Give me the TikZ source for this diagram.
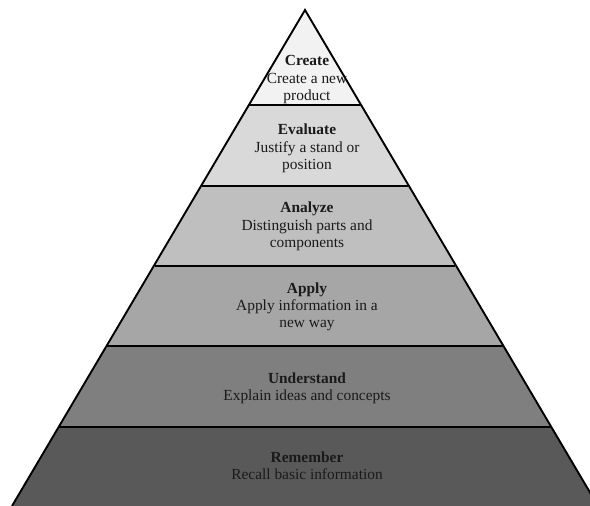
\documentclass[tikz,border=0pt]{standalone}
\usepackage{fontspec}
\setmainfont{Liberation Serif}
\definecolor{cCreate}{HTML}{F2F2F2}
\definecolor{cEvaluate}{HTML}{D9D9D9}
\definecolor{cAnalyze}{HTML}{BFBFBF}
\definecolor{cApply}{HTML}{A6A6A6}
\definecolor{cUnderstand}{HTML}{7F7F7F}
\definecolor{cRemember}{HTML}{595959}
\definecolor{txt}{HTML}{1A1A1A}
\tikzset{
  ttl/.style={font=\fontsize{15.4}{17.5}\selectfont\bfseries, text=txt, anchor=base, inner sep=0pt},
  dsc/.style={font=\fontsize{15.4}{17.5}\selectfont, text=txt, anchor=base, inner sep=0pt},
  sep/.style={line width=2.8pt, line cap=butt},
  edge/.style={line width=1.9pt, line join=miter}
}
\begin{document}
\begin{tikzpicture}[x=1pt,y=-1pt]
\useasboundingbox (0,0) rectangle (590,506);
\clip (0,0) rectangle (590,506);
% corner coordinates
\coordinate (apex) at (305,10);
\coordinate (l1) at (248.9,105); \coordinate (r1) at (361.1,105);
\coordinate (l2) at (202.0,186); \coordinate (r2) at (408.0,186);
\coordinate (l3) at (154.8,266); \coordinate (r3) at (455.2,266);
\coordinate (l4) at (106.5,346); \coordinate (r4) at (503.5,346);
\coordinate (l5) at (58.7,427);  \coordinate (r5) at (551.3,427);
\coordinate (l6) at (12,506);    \coordinate (r6) at (598,506);
% bands
\fill[cCreate] (apex) -- (r1) -- (l1) -- cycle;
\fill[cEvaluate] (l1) -- (r1) -- (r2) -- (l2) -- cycle;
\fill[cAnalyze] (l2) -- (r2) -- (r3) -- (l3) -- cycle;
\fill[cApply] (l3) -- (r3) -- (r4) -- (l4) -- cycle;
\fill[cUnderstand] (l4) -- (r4) -- (r5) -- (l5) -- cycle;
\fill[cRemember] (l5) -- (r5) -- (r6) -- (l6) -- cycle;
% separators
\foreach \i in {1,...,5} { \draw[sep] (l\i) -- (r\i); }
% outline
\draw[edge] (l6) -- (apex) -- (r6);
% texts
\node[ttl] (t1) at (307,65) {Create};
\node[dsc] (d1a) at (307,83) {Create a new};
\node[dsc] (d1b) at (307,100) {product};
\node[ttl] (t2) at (307,134) {Evaluate};
\node[dsc] (d2a) at (307,152) {Justify a stand or};
\node[dsc] (d2b) at (307,169) {position};
\node[ttl] (t3) at (307,212) {Analyze};
\node[dsc] (d3a) at (307,230) {Distinguish parts and};
\node[dsc] (d3b) at (307,247) {components};
\node[ttl] (t4) at (307,293) {Apply};
\node[dsc] (d4a) at (307,310) {Apply information in a};
\node[dsc] (d4b) at (307,327) {new way};
\node[ttl] (t5) at (307,383) {Understand};
\node[dsc] (d5a) at (307,400) {Explain ideas and concepts};
\node[ttl] (t6) at (307,462) {Remember};
\node[dsc] (d6a) at (307,479) {Recall basic information};
\end{tikzpicture}
\end{document}
